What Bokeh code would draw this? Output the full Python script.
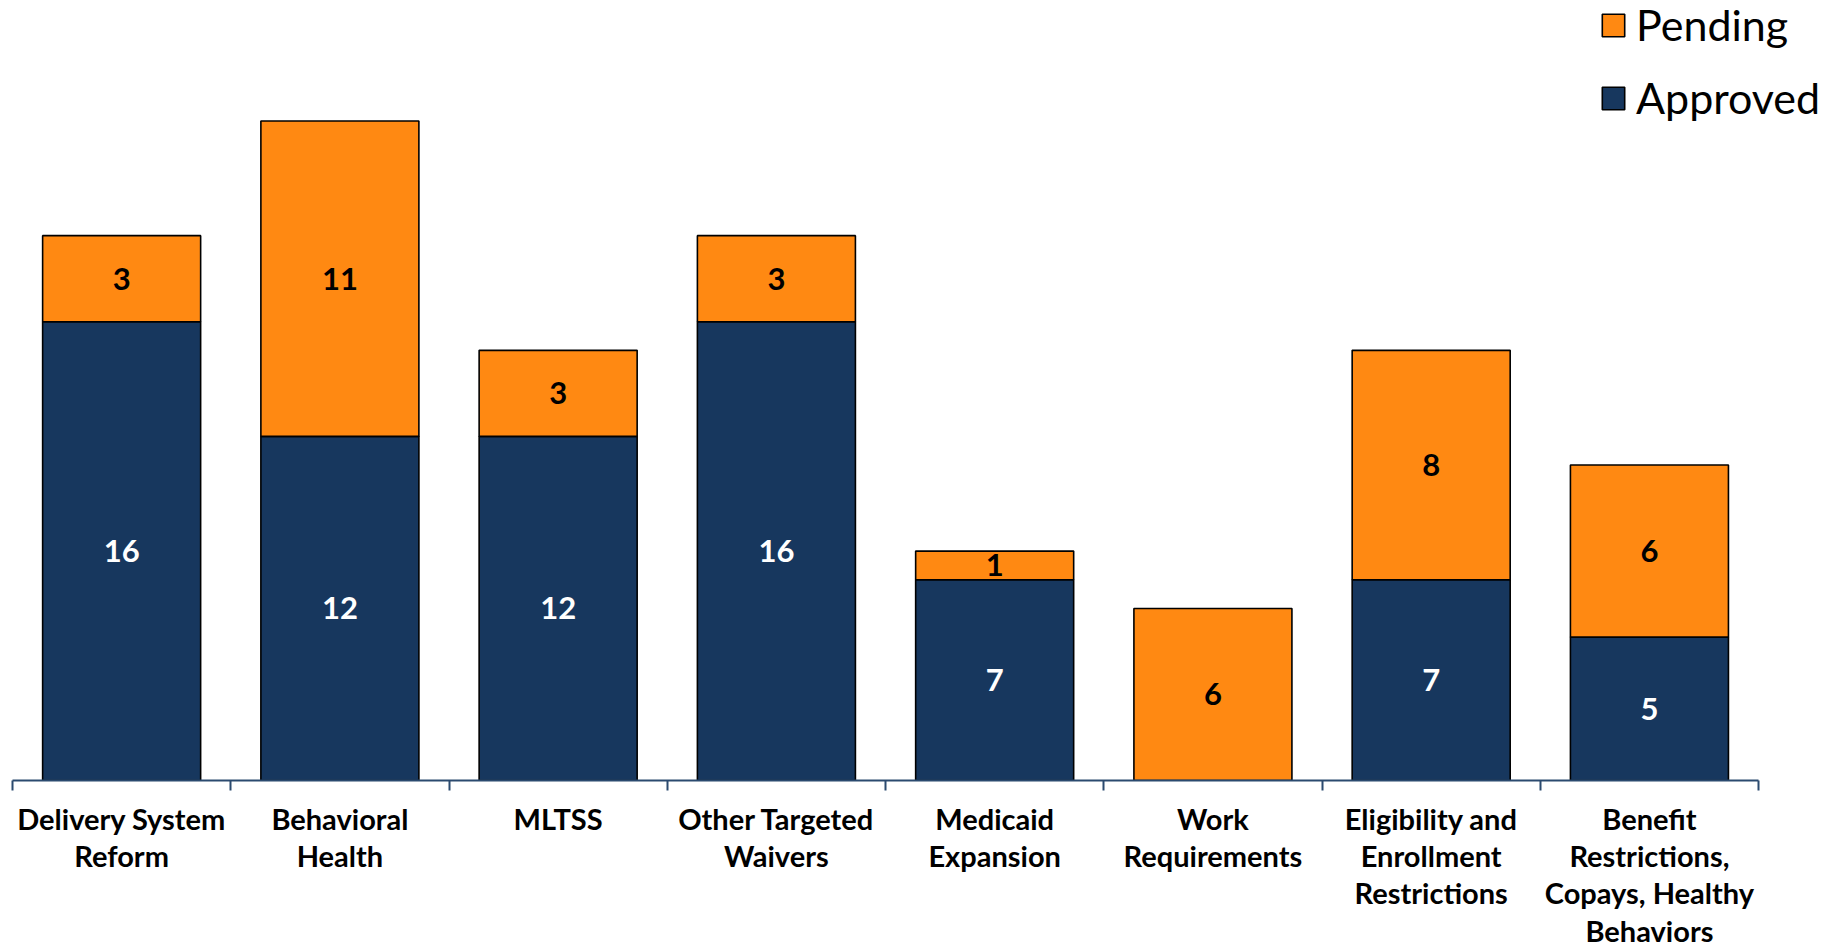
from bokeh.plotting import figure
from bokeh.models import (ColumnDataSource, Range1d, LinearAxis,
                          FixedTicker, Legend, LegendItem)
from bokeh.embed import file_html
from bokeh.resources import INLINE
from bokeh.core.properties import value

categories = [
    "Delivery System\nReform",
    "Behavioral\nHealth",
    "MLTSS",
    "Other Targeted\nWaivers",
    "Medicaid\nExpansion",
    "Work\nRequirements",
    "Eligibility and\nEnrollment\nRestrictions",
    "Benefit\nRestrictions,\nCopays, Healthy\nBehaviors",
]
approved = [16, 12, 12, 16, 7, 0, 7, 5]
pending = [3, 11, 3, 3, 1, 6, 8, 6]
series = ["Approved", "Pending"]

NAVY = "#17375E"
ORANGE = "#FF8912"
AXIS = "#2B4A6F"
FONT = "Lato"

n = len(categories)
centers = [i + 0.5 for i in range(n)]
bounds = list(range(n + 1))

source = ColumnDataSource(dict(x=centers, Approved=approved, Pending=pending))

a_src = ColumnDataSource(dict(
    x=[c for c, a in zip(centers, approved) if a],
    y=[a / 2 for a in approved if a],
    t=[str(a) for a in approved if a],
))
p_src = ColumnDataSource(dict(
    x=[c for c, q in zip(centers, pending) if q],
    y=[a + q / 2 for a, q in zip(approved, pending) if q],
    t=[str(q) for q in pending if q],
))

p = figure(width=1841, height=950,
           x_range=Range1d(0, n + 0.38), y_range=Range1d(0, 27.2),
           output_backend="svg", toolbar_location=None,
           x_axis_location=None, y_axis_location=None,
           min_border_left=12, min_border_right=0, min_border_top=0, min_border_bottom=170)
p.outline_line_color = None
p.xgrid.grid_line_color = None
p.ygrid.grid_line_color = None
p.background_fill_color = "white"
p.border_fill_color = "white"

axis = LinearAxis(ticker=FixedTicker(ticks=centers, minor_ticks=bounds),
                  bounds=(0, n),
                  major_label_overrides={c: lab for c, lab in zip(centers, categories)},
                  axis_line_color=AXIS, axis_line_width=2,
                  major_tick_line_color=None, major_tick_in=0, major_tick_out=10,
                  minor_tick_line_color=AXIS, minor_tick_line_width=2,
                  minor_tick_in=0, minor_tick_out=10,
                  major_label_standoff=10,
                  major_label_text_font=FONT,
                  major_label_text_font_style="bold",
                  major_label_text_font_size="29px",
                  major_label_text_color="black",
                  major_label_text_line_height=1.07)
p.add_layout(axis, "below")

rs = p.vbar_stack(series, x="x", width=0.724, source=source,
                  fill_color=[NAVY, ORANGE], line_color="black", line_width=1.6)

p.text(x="x", y="y", text="t", source=a_src,
       text_align="center", text_baseline="middle",
       text_font=value(FONT), text_font_style="bold", text_font_size="31px",
       text_color="white")
p.text(x="x", y="y", text="t", source=p_src,
       text_align="center", text_baseline="middle",
       text_font=value(FONT), text_font_style="bold", text_font_size="31px",
       text_color="black")

legend = Legend(items=[LegendItem(label="Pending", renderers=[rs[1]]),
                       LegendItem(label="Approved", renderers=[rs[0]])],
                location=(1587, 657),
                label_text_font=FONT, label_text_font_size="43px",
                label_text_color="black",
                glyph_width=28, glyph_height=28, label_standoff=9,
                spacing=22, padding=0, margin=0,
                border_line_color=None, background_fill_alpha=0)
p.add_layout(legend)

open("out.html", "w").write(file_html(p, INLINE))
